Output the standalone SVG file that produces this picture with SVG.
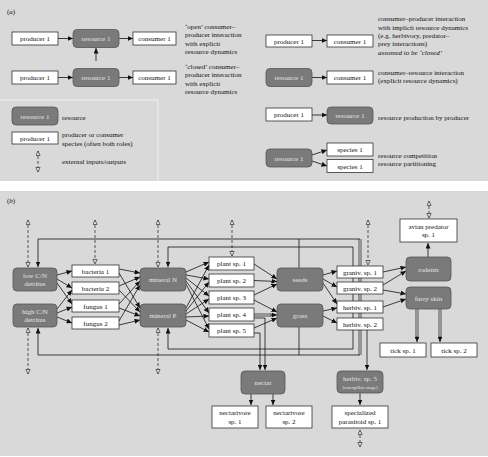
<svg xmlns="http://www.w3.org/2000/svg" width="488" height="457" viewBox="0 0 488 457">
<defs>
<style>
.bg{fill:#d9d9d9}
.res{fill:#7a7a7a;stroke:#555;stroke-width:0.8}
.sp{fill:#fff;stroke:#333;stroke-width:0.8}
text{font-family:"Liberation Serif",serif;font-size:7px;fill:#111}
.m{text-anchor:middle}
.w{fill:#e4e4e4}
.c{fill:none;stroke:#111;stroke-width:0.8;marker-end:url(#ah)}
.ln{fill:none;stroke:#111;stroke-width:0.8}
.dash{fill:none;stroke:#333;stroke-width:0.8;stroke-dasharray:3,2;marker-start:url(#oh);marker-end:url(#oh)}
.dbo{fill:none;stroke:#4a4a4a;stroke-width:3}
.dbi{fill:none;stroke:#b8b8b8;stroke-width:1.4}
</style>
<marker id="ah" markerUnits="userSpaceOnUse" markerWidth="6" markerHeight="5" refX="5.5" refY="2.5" orient="auto"><path d="M0,0 L5.5,2.5 L0,5 z" fill="#111"/></marker>
<marker id="oh" markerUnits="userSpaceOnUse" markerWidth="6" markerHeight="6" refX="5" refY="2.5" orient="auto-start-reverse"><path d="M0.5,0.4 L5,2.5 L0.5,4.6 z" fill="#e0e0e0" stroke="#333" stroke-width="0.7"/></marker>
</defs>
<rect width="488" height="457" fill="#fff"/>
<rect class="bg" x="0" y="0" width="488" height="181"/>
<rect class="bg" x="0" y="191" width="488" height="265"/>
<polyline points="0,100 158,100 158,181" fill="none" stroke="#efefef" stroke-width="1"/>
<text x="7" y="14">(<tspan font-style="italic">a</tspan>)</text>
<text x="7" y="203">(<tspan font-style="italic">b</tspan>)</text>

<g id="a-text">
<text x="185" y="28.5">‘open’ consumer–</text>
<text x="185" y="37">producer interaction</text>
<text x="185" y="45.5">with explicit</text>
<text x="185" y="54">resource dynamics</text>
<text x="185" y="68.5">‘closed’ consumer–</text>
<text x="185" y="77">producer interaction</text>
<text x="185" y="85.5">with explicit</text>
<text x="185" y="94">resource dynamics</text>
<text x="378" y="21">consumer–producer interaction</text>
<text x="378" y="29.5">with implicit resource dynamics</text>
<text x="378" y="37.5">(e.g. herbivory, predator–</text>
<text x="378" y="45.5">prey interactions)</text>
<text x="378" y="54.5" font-style="italic">assumed to be ‘closed’</text>
<text x="378" y="74.5">consumer–resource interaction</text>
<text x="378" y="82.5">(explicit resource dynamics)</text>
<text x="378" y="119.5">resource production by producer</text>
<text x="378" y="157.5">resource competition</text>
<text x="378" y="165.5">resource partitioning</text>
<text x="62" y="119.5">resource</text>
<text x="62" y="136.5">producer or consumer</text>
<text x="62" y="145.5">species (often both roles)</text>
<text x="62" y="163.5">external inputs/outputs</text>
</g>

<g id="connectors">
<path class="c" d="M58,38.5 H73"/>
<path class="c" d="M119,38.5 H133"/>
<path class="c" d="M96,61 V48"/>
<path class="c" d="M58,77.5 H73"/>
<path class="c" d="M119,77.5 H133"/>
<path class="c" d="M312,40.5 H327"/>
<path class="c" d="M312,77.5 H327"/>
<path class="c" d="M312,115 H327"/>
<path class="c" d="M312,155 L327,150"/>
<path class="c" d="M312,161 L327,166"/>
<path class="dash" d="M38,151 V172"/>

<path class="dash" d="M28,220 V267"/>
<path class="dash" d="M28,328 V374"/>
<path class="dash" d="M95,220 V264"/>
<path class="dash" d="M158,220 V267"/>
<path class="dash" d="M158,328 V374"/>
<path class="dash" d="M232,220 V256"/>
<path class="dash" d="M368,220 V265"/>
<path class="dash" d="M429,201 V218"/>
<path class="dash" d="M360,430 V447"/>

<path class="dbo" d="M360,239 V355"/>
<path class="dbi" d="M360,239 V355"/>
<path class="c" d="M360,239 H38 V267"/>
<path class="c" d="M360,355 H38 V328"/>
<path class="ln" d="M299,268 V239"/>
<path class="ln" d="M299,327 V355"/>
<path class="c" d="M353,300 V247 H168 V267"/>
<path class="c" d="M353,300 V349 H168 V328"/>

<path class="c" d="M57,275 L72,271"/>
<path class="c" d="M57,279 L72,288"/>
<path class="c" d="M57,283 L72,304"/>
<path class="c" d="M57,309 L72,290"/>
<path class="c" d="M57,313 L72,307"/>
<path class="c" d="M57,317 L72,323"/>

<path class="c" d="M119,269 L140,273"/>
<path class="c" d="M119,273 L140,308"/>
<path class="c" d="M119,286 L140,277"/>
<path class="c" d="M119,290 L140,312"/>
<path class="c" d="M119,304 L140,281"/>
<path class="c" d="M119,308 L140,316"/>
<path class="c" d="M119,321 L140,285"/>
<path class="c" d="M119,325 L140,320"/>

<path class="c" d="M186,272 L209,262"/>
<path class="c" d="M186,275 L209,279"/>
<path class="c" d="M186,278 L209,296"/>
<path class="c" d="M186,281 L209,313"/>
<path class="c" d="M186,284 L209,329"/>
<path class="c" d="M186,308 L209,265"/>
<path class="c" d="M186,311 L209,282"/>
<path class="c" d="M186,314 L209,299"/>
<path class="c" d="M186,317 L209,316"/>
<path class="c" d="M186,320 L209,332"/>

<path class="c" d="M254,264 L277,279"/>
<path class="c" d="M254,280.5 L277,281.5"/>
<path class="c" d="M254,295 L277,284"/>
<path class="c" d="M254,300 L277,312"/>
<path class="dbo" d="M254,315 H273"/>
<path class="dbi" d="M254,315 H273"/>
<path class="c" d="M270,315 H277"/>
<path class="c" d="M254,328 L277,318"/>
<path class="c" d="M254,318 H265 V370"/>
<path class="c" d="M254,333 H260 V370"/>

<path class="c" d="M323,275 L337,271"/>
<path class="c" d="M323,279 L337,287"/>
<path class="c" d="M323,283 L337,304"/>
<path class="c" d="M323,311 L337,308"/>
<path class="c" d="M323,316 L337,323"/>

<path class="c" d="M383,272 L406,267"/>
<path class="c" d="M383,285 L406,271"/>
<path class="c" d="M383,290 L406,294"/>
<path class="c" d="M383,307 L406,299"/>
<path class="c" d="M428,257 V243"/>
<path class="dbo" d="M417,309 V339"/>
<path class="dbi" d="M417,309 V339"/>
<path class="c" d="M417,336 V342"/>
<path class="dbo" d="M440,309 V339"/>
<path class="dbi" d="M440,309 V339"/>
<path class="c" d="M440,336 V342"/>

<path class="c" d="M251,394 V405"/>
<path class="c" d="M273,394 V405"/>
<path class="c" d="M367,330 V370"/>
<path class="c" d="M360,393 V405"/>
</g>

<g id="a-producer-1"><rect class="sp" x="12" y="32" width="46" height="13"/><text class="m" x="35" y="41">producer 1</text></g>
<g id="a-resource-1"><rect class="res" x="73" y="29.5" width="46" height="18" rx="4"/><text class="m w" x="96" y="41">resource 1</text></g>
<g id="a-consumer-1"><rect class="sp" x="133" y="32" width="43" height="13"/><text class="m" x="154.5" y="41">consumer 1</text></g>
<g id="a-producer-2"><rect class="sp" x="12" y="71" width="46" height="13"/><text class="m" x="35" y="80">producer 1</text></g>
<g id="a-resource-2"><rect class="res" x="73" y="68.5" width="46" height="18" rx="4"/><text class="m w" x="96" y="80">resource 1</text></g>
<g id="a-consumer-2"><rect class="sp" x="133" y="71" width="43" height="13"/><text class="m" x="154.5" y="80">consumer 1</text></g>
<g id="a-producer-3"><rect class="sp" x="266" y="35" width="46" height="12"/><text class="m" x="289" y="43.5">producer 1</text></g>
<g id="a-consumer-3"><rect class="sp" x="327" y="35" width="46" height="12"/><text class="m" x="350" y="43.5">consumer 1</text></g>
<g id="a-resource-4"><rect class="res" x="266" y="68.5" width="46" height="18" rx="4"/><text class="m w" x="289" y="80">resource 1</text></g>
<g id="a-consumer-4"><rect class="sp" x="327" y="71" width="46" height="13"/><text class="m" x="350" y="80">consumer 1</text></g>
<g id="a-producer-5"><rect class="sp" x="266" y="108" width="46" height="13"/><text class="m" x="289" y="117">producer 1</text></g>
<g id="a-resource-5"><rect class="res" x="327" y="107" width="46" height="17" rx="4"/><text class="m w" x="350" y="118">resource 1</text></g>
<g id="a-resource-6"><rect class="res" x="266" y="149" width="46" height="18" rx="4"/><text class="m w" x="289" y="160.5">resource 1</text></g>
<g id="a-species-1"><rect class="sp" x="327" y="143" width="46" height="13"/><text class="m" x="350" y="152">species 1</text></g>
<g id="a-species-2"><rect class="sp" x="327" y="159.5" width="46" height="13"/><text class="m" x="350" y="168.5">species 1</text></g>
<g id="legend-resource"><rect class="res" x="12" y="107" width="46" height="18" rx="4"/><text class="m w" x="35" y="118.5">resource 1</text></g>
<g id="legend-producer"><rect class="sp" x="12" y="132" width="46" height="12"/><text class="m" x="35" y="140.5">producer 1</text></g>

<g id="low-cn"><rect class="res" x="13" y="268" width="44" height="23" rx="4"/><text class="m w" x="35" y="277.5">low C/N</text><text class="m w" x="35" y="286">detritus</text></g>
<g id="high-cn"><rect class="res" x="13" y="304" width="44" height="23" rx="4"/><text class="m w" x="35" y="313.5">high C/N</text><text class="m w" x="35" y="322">detritus</text></g>
<g id="bacteria-1"><rect class="sp" x="72" y="265" width="47" height="12"/><text class="m" x="95.5" y="273.5">bacteria 1</text></g>
<g id="bacteria-2"><rect class="sp" x="72" y="282" width="47" height="12"/><text class="m" x="95.5" y="290.5">bacteria 2</text></g>
<g id="fungus-1"><rect class="sp" x="72" y="300" width="47" height="12"/><text class="m" x="95.5" y="308.5">fungus 1</text></g>
<g id="fungus-2"><rect class="sp" x="72" y="317" width="47" height="12"/><text class="m" x="95.5" y="325.5">fungus 2</text></g>
<g id="mineral-n"><rect class="res" x="140" y="268" width="46" height="23" rx="4"/><text class="m w" x="163" y="282">mineral N</text></g>
<g id="mineral-p"><rect class="res" x="140" y="304" width="46" height="23" rx="4"/><text class="m w" x="163" y="318">mineral P</text></g>
<g id="plant-1"><rect class="sp" x="209" y="257" width="45" height="13"/><text class="m" x="231.5" y="266">plant sp. 1</text></g>
<g id="plant-2"><rect class="sp" x="209" y="274" width="45" height="13"/><text class="m" x="231.5" y="283">plant sp. 2</text></g>
<g id="plant-3"><rect class="sp" x="209" y="291" width="45" height="13"/><text class="m" x="231.5" y="300">plant sp. 3</text></g>
<g id="plant-4"><rect class="sp" x="209" y="308" width="45" height="13"/><text class="m" x="231.5" y="317">plant sp. 4</text></g>
<g id="plant-5"><rect class="sp" x="209" y="324" width="45" height="13"/><text class="m" x="231.5" y="333">plant sp. 5</text></g>
<g id="seeds"><rect class="res" x="277" y="268" width="46" height="23" rx="4"/><text class="m w" x="300" y="281.5">seeds</text></g>
<g id="grass"><rect class="res" x="277" y="304" width="46" height="23" rx="4"/><text class="m w" x="300" y="317.5">grass</text></g>
<g id="graniv-1"><rect class="sp" x="337" y="266" width="46" height="12"/><text class="m" x="360" y="274.5">graniv. sp. 1</text></g>
<g id="graniv-2"><rect class="sp" x="337" y="282" width="46" height="12"/><text class="m" x="360" y="290.5">graniv. sp. 2</text></g>
<g id="herbiv-1"><rect class="sp" x="337" y="301" width="46" height="12"/><text class="m" x="360" y="309.5">herbiv. sp. 1</text></g>
<g id="herbiv-2"><rect class="sp" x="337" y="318" width="46" height="12"/><text class="m" x="360" y="326.5">herbiv. sp. 2</text></g>
<g id="rodents"><rect class="res" x="406" y="257" width="45" height="24" rx="4"/><text class="m w" x="428.5" y="271.5">rodents</text></g>
<g id="furry-skin"><rect class="res" x="406" y="287" width="45" height="22" rx="4"/><text class="m w" x="428.5" y="300.5">furry skin</text></g>
<g id="avian"><rect class="sp" x="400" y="219" width="57" height="23"/><text class="m" x="428.5" y="228.5">avian predator</text><text class="m" x="428.5" y="237">sp. 1</text></g>
<g id="tick-1"><rect class="sp" x="380" y="343" width="46" height="14"/><text class="m" x="403" y="352.5">tick sp. 1</text></g>
<g id="tick-2"><rect class="sp" x="431" y="343" width="46" height="14"/><text class="m" x="454" y="352.5">tick sp. 2</text></g>
<g id="nectar"><rect class="res" x="241" y="371" width="44" height="23" rx="4"/><text class="m w" x="263" y="385">nectar</text></g>
<g id="nectarivore-1"><rect class="sp" x="212" y="406" width="46" height="22"/><text class="m" x="235" y="415">nectarivore</text><text class="m" x="235" y="423.5">sp. 1</text></g>
<g id="nectarivore-2"><rect class="sp" x="266" y="406" width="46" height="22"/><text class="m" x="289" y="415">nectarivore</text><text class="m" x="289" y="423.5">sp. 2</text></g>
<g id="herbiv-5"><rect class="res" x="337" y="371" width="46" height="22" rx="4"/><text class="m w" x="360" y="381">herbiv. sp. 5</text><text class="m w" x="360" y="388.5" style="font-size:5px">(caterpillar stage)</text></g>
<g id="parasitoid"><rect class="sp" x="332" y="406" width="56" height="22"/><text class="m" x="360" y="415">specialized</text><text class="m" x="360" y="423.5">parasitoid sp. 1</text></g>
</svg>
